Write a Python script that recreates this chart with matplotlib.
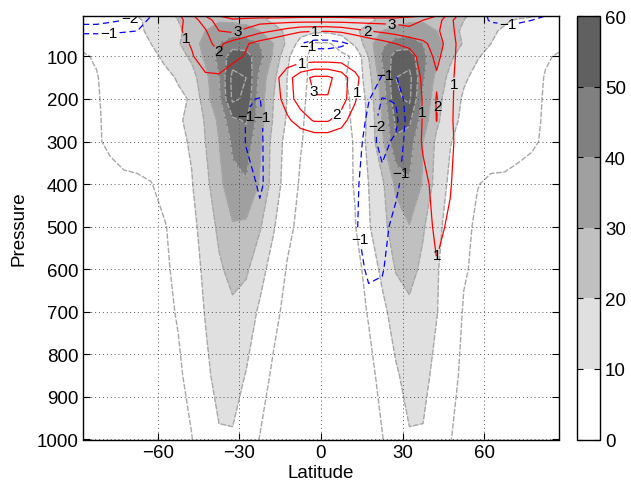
import numpy as np
import matplotlib
matplotlib.use('Agg')
import matplotlib.pyplot as plt
from matplotlib.colors import ListedColormap, BoundaryNorm
from matplotlib.cm import ScalarMappable

plt.rcParams['font.family'] = ['Liberation Sans', 'DejaVu Sans']

# grid
lat = [-87.5, -82.5, -77.5, -72.5, -67.5, -62.5, -57.5, -52.5, -47.5, -42.5, -37.5, -32.5,
       -27.5, -22.5, -17.5, -12.5, -7.5, -2.5, 2.5, 7.5, 12.5, 17.5, 22.5, 27.5,
       32.5, 37.5, 42.5, 47.5, 52.5, 57.5, 62.5, 67.5, 72.5, 77.5, 82.5, 87.5]
pres = [5, 15, 40, 70, 100, 150, 200, 250, 300, 400, 500, 600, 700, 850, 1000]

# zonal wind (shaded), one row per pressure level
u_p5 = [4, 5, 6, 8, 10, 13, 17, 21, 25, 29, 30, 29, 27, 23, 19, 16, 14, 13,
        13, 14, 16, 19, 23, 27, 29, 30, 29, 25, 21, 17, 15, 13, 12, 11, 9, 8]
u_p15 = [3, 4, 5, 7, 9, 12, 16, 20, 24, 28, 29, 28, 26, 22, 18, 15, 13, 12,
         12, 13, 15, 18, 22, 26, 28, 29, 28, 24, 20, 16, 13, 11, 9, 7, 6, 5]
u_p40 = [3, 4, 5, 7, 9, 11, 14, 18, 24, 30, 34, 36, 35, 30, 24, 18, 14, 12,
         12, 14, 18, 24, 30, 34, 36, 34, 30, 24, 18, 14, 11, 9, 7, 5, 4, 3]
u_p70 = [1, 2, 4, 6, 8, 10, 13, 19, 26, 33, 40, 46, 45, 40, 30, 18, 6, -1,
         -1, 3, 12, 26, 38, 45, 46, 40, 33, 26, 19, 13, 10, 8, 6, 4, 2, 1]
u_p100 = [-0.5, 0.5, 3, 5, 7, 8.5, 11, 16, 22, 32, 43, 55, 54, 44, 28, 12, 2, -2,
          -2, -1.5, 1, 20, 42, 54, 55, 43, 32, 22, 15, 10.5, 8, 6.5, 5, 3, 0.5, -0.5]
u_p150 = [-1, -0.3, 2, 4, 5.5, 7, 8.5, 10.5, 16, 27, 40, 63, 60, 37, 22, 10, 2, -2,
          -2, -1, 2, 16, 36, 60, 63, 42, 27, 17, 11, 8, 6.5, 5, 3.5, 2, -0.3, -1]
u_p200 = [-1.5, -0.5, 1.5, 3, 4.5, 6, 7.5, 9, 10.5, 26, 38, 62, 58, 35, 20, 10, 1.5, -2.5,
          -2.5, -1.5, 1, 13, 33, 58, 62, 38, 24, 14, 9, 7, 5.5, 4, 3, 1.5, -0.5, -1.5]
u_p250 = [-1.5, -0.5, 1, 2.5, 3.5, 5, 7, 9, 12, 21, 32, 48, 51, 35, 19, 9, 1, -3,
          -3, -2, 1, 12, 30, 52, 52, 35, 22, 13, 8, 6, 4.5, 3.5, 2.5, 1, -0.5, -1.5]
u_p300 = [-1.5, -0.5, 0.8, 2, 3, 4.5, 6, 8, 11, 20, 30, 42, 46, 32, 16, 7, 0.5, -3,
          -3, -2.5, 0.5, 13, 28, 49, 45, 30, 18, 10.5, 6, 4, 3, 2.5, 1.5, 0.5, -0.5, -1.5]
u_p400 = [-2, -2, -1.5, -1, -1, -0.3, 2.5, 6, 9.5, 17, 27, 37, 39, 29, 16, 5, -1, -3,
          -3, -3, 0.5, 10, 18, 32, 39, 29, 16, 8, 4, 0.2, -1, -1, -1.5, -1.5, -2, -2]
u_p500 = [-2.5, -2.5, -2, -2, -2, -2, -0.5, 3, 7.5, 14, 22, 29, 28, 21, 11, 2, -2, -3,
          -3, -2, -0.5, 9, 17, 25, 29.5, 21, 13, 5.5, 1.5, -1, -1.5, -1.5, -2, -2, -2, -2.5]
u_p600 = [-3, -2.5, -2.5, -2, -2, -2, -1, 1.5, 6, 12, 18.5, 23, 21.5, 13.5, 6, -0.5, -3, -4,
          -4, -3.5, -3, 3, 12.5, 20.5, 23, 18, 11, 4.5, 0.5, -1, -1.5, -2, -2, -2.5, -2.5, -3]
u_p700 = [-3, -3, -2.5, -2.5, -2, -2, -1.5, 0.5, 5, 10.5, 16, 18, 15, 8.5, 2.5, -2.5, -4, -5,
          -5, -4.5, -3, 0.5, 7, 15, 18, 15.5, 10.5, 4, -0.5, -1.5, -2, -2, -2.5, -2.5, -3, -3]
u_p850 = [-3, -3, -3, -2.5, -2.5, -2, -1.5, -1, 2, 8, 13, 14, 9.5, 4, -1.5, -5, -6, -6,
          -6, -6, -5, -2, 2, 8.5, 14, 13, 7, 1.5, -1, -1.5, -2, -2.5, -2.5, -3, -3, -3]
u_p1000 = [-3, -3, -3, -2, -2, -2, -1.5, -1, -0.2, 5, 9, 9, 4, -0.3, -4, -6, -6, -5,
           -5, -6, -6, -4, -0.3, 4, 9, 9, 5, 0.1, -1, -1.5, -2, -2, -2, -3, -3, -3]

# wind change (red / blue contours), one row per pressure level
d_p5 = [-3, -3, -3, -2.5, -2, -1, 0, 0.8, 1.8, 3, 4, 4.5, 4.5, 4.5, 4.5, 4.4, 4.3, 4.3,
        4.3, 4.3, 4.4, 4.5, 4.5, 4.5, 4.2, 4, 3, 1.5, 0.5, -0.5, -1.2, -1.5, -1.5, -1.2, -1, -0.5]
d_p15 = [-2.5, -2.5, -2.2, -2, -1.5, -0.8, 0, 0.7, 1.5, 2.5, 3.5, 3.8, 3.6, 3.4, 3.4, 3.4, 3.4, 3.4,
         3.4, 3.4, 3.4, 3.4, 3.4, 3.4, 3.4, 3, 2.5, 1.2, 0.3, -0.6, -1.1, -1.2, -1.2, -1, -0.6, -0.3]
d_p40 = [-1.2, -1.2, -1.2, -1.1, -1, -0.5, 0.2, 0.8, 1.5, 1.9, 3.0, 3.2, 2.8, 2.3, 2, 1.6, 1.2, 1.1,
         1.1, 1.3, 1.7, 2, 2.2, 2.4, 2.7, 2.6, 2.2, 1.3, 0.3, -0.4, -0.6, -0.6, -0.5, -0.4, -0.3, 0]
d_p70 = [-0.3, -0.3, -0.2, -0.2, -0.1, 0, 0.2, 0.6, 1.1, 1.8, 2.2, 1.6, 1.1, 0.6, 0.2, -0.3, -1.0, -1.8,
         -1.8, -1.4, -0.5, 0.2, 0.6, 1.0, 1.3, 1.8, 2.4, 1.6, 0.2, 0, 0, 0, 0, 0, 0, 0]
d_p100 = [0, 0, 0, 0, 0, 0, 0.1, 0.4, 0.9, 1.6, 1.9, 1.3, 0.9, 0.2, 0.2, 0.3, 0.3, 0.2,
          0.2, 0.3, 0.2, 0, 0, 0.2, 0.5, 1.5, 2.2, 1.5, 0.2, 0, 0, 0, 0, 0, 0, 0]
d_p150 = [0, 0, 0, 0, 0, 0, 0, 0.3, 0.5, 0.8, 0.8, 0.4, 0.1, -0.2, 0.6, 1.6, 2.6, 3.2,
          3.2, 2.6, 1.3, 0.3, -1.15, -1.1, 0.1, 1.2, 1.9, 1.3, 0.2, 0, 0, 0, 0, 0, 0, 0]
d_p200 = [0, 0, 0, 0, 0, 0, 0, 0, 0.1, 0.2, 0.2, -0.2, -0.9, -1.05, 0.4, 1.5, 2.5, 2.95,
          2.95, 2.5, 1.2, -0.9, -2.05, -1.9, -0.3, 1.1, 2.05, 1.25, 0.2, 0, 0, 0, 0, 0, 0, 0]
d_p250 = [0, 0, 0, 0, 0, 0, 0, 0, 0, 0, 0, -0.2, -1.05, -1.15, -0.4, 0.8, 1.5, 2.1,
          2.1, 1.5, 0.3, -1.4, -2.4, -2.3, -0.4, 1.1, 2.02, 1.2, 0.2, 0, 0, 0, 0, 0, 0, 0]
d_p300 = [0, 0, 0, 0, 0, 0, 0, 0, 0, 0, 0, -0.3, -1.05, -1.15, -0.5, 0.1, 0.2, 0.2,
          0.2, 0.1, -0.3, -1.6, -2.3, -1.8, -0.4, 1.2, 1.6, 1.3, 0.2, 0, 0, 0, 0, 0, 0, 0]
d_p400 = [0, 0, 0, 0, 0, 0, 0, 0, 0, 0, 0, -0.2, -0.7, -1.1, -0.7, 0, 0, 0,
          0, 0, -0.8, -1.5, -1.7, -1.3, -0.2, 0.6, 1.5, 1.1, 0, 0, 0, 0, 0, 0, 0, 0]
d_p500 = [0, 0, 0, 0, 0, 0, 0, 0, 0, 0, 0, 0, -0.4, -0.8, -0.4, 0, 0, 0,
          0, 0, -0.9, -1.4, -1.4, -0.6, 0, 0.3, 1.3, 0.8, 0, 0, 0, 0, 0, 0, 0, 0]
d_p600 = [0, 0, 0, 0, 0, 0, 0, 0, 0, 0, 0, 0, 0, 0, 0, 0, 0, 0,
          0, 0, -0.5, -1.2, -1.1, -0.3, 0, 0, 0.9, 0.4, 0, 0, 0, 0, 0, 0, 0, 0]
d_p700 = [0, 0, 0, 0, 0, 0, 0, 0, 0, 0, 0, 0, 0, 0, 0, 0, 0, 0,
          0, 0, 0, -0.6, -0.5, 0, 0, 0, 0, 0, 0, 0, 0, 0, 0, 0, 0, 0]
d_p850 = [0] * 36
d_p1000 = [0] * 36

shade_levels = [0, 10, 20, 30, 40, 50, 60]
shade_colors = ['#ffffff', '#e0e0e0', '#c0c0c0', '#a0a0a0', '#808080', '#606060']
pos_levels = [1, 2, 3, 4]
neg_levels = [-2, -1]

# label spots (lat, pressure) as in the original
pos_label_at = [(-49, 55), (-37.7, 88), (-30.4, 48), (-2, 36), (-6.9, 114), (-3.9, 184),
                (4.1, 224), (13.3, 184), (16.9, 43), (26.1, 31), (36.4, 231), (42.7, 217),
                (51.9, 165), (45.6, 571)]
neg_label_at = [(-78, 41), (-70, 17), (-5, 78), (-28.9, 240), (-21.6, 243), (23.6, 149),
                (20.7, 264), (28, 372), (13.7, 529), (68.8, 22)]

U = np.array([u_p5, u_p15, u_p40, u_p70, u_p100, u_p150, u_p200, u_p250, u_p300,
              u_p400, u_p500, u_p600, u_p700, u_p850, u_p1000], dtype=float)
D = np.array([d_p5, d_p15, d_p40, d_p70, d_p100, d_p150, d_p200, d_p250, d_p300,
              d_p400, d_p500, d_p600, d_p700, d_p850, d_p1000], dtype=float)
LAT, P = np.meshgrid(lat, pres)

fig = plt.figure(figsize=(6.31, 4.89), dpi=100)
ax = fig.add_axes([83 / 631, 1 - 440.5 / 489, 476 / 631, 423.5 / 489])

ax.contourf(LAT, P, U, levels=[-100] + shade_levels + [100],
            colors=['#ffffff'] + shade_colors + ['#606060'])
cl = ax.contour(LAT, P, U, levels=shade_levels, colors='#a8a8a8', linewidths=1.0)
cl.set_linestyle((0, (4, 1.2)))

fmt = lambda v: '{:.0f}'.format(v).replace('-', '\u2212')
cp = ax.contour(LAT, P, D, levels=pos_levels, colors='#ff0000', linewidths=0.9)
cn = ax.contour(LAT, P, D, levels=neg_levels, colors='#0000ff', linewidths=0.9)
cn.set_linestyle((0, (5, 3)))
lp = ax.clabel(cp, manual=pos_label_at, fmt=fmt, fontsize=11, colors='k', inline_spacing=2)
ln = ax.clabel(cn, manual=neg_label_at, fmt=fmt, fontsize=11, colors='k', inline_spacing=2)
for t in list(lp) + list(ln):
    t.set_rotation(0)

ax.set_xlim(-87.5, 87.5)
ax.set_ylim(1000, 5)
ax.set_xticks([-60, -30, 0, 30, 60])
ax.set_yticks([100, 200, 300, 400, 500, 600, 700, 800, 900, 1000])
ax.grid(True, linestyle=(0, (1, 3)), color='#555555', linewidth=0.7)
ax.set_axisbelow(False)
ax.tick_params(direction='in', top=True, right=True, length=5, labelsize=13.5)
ax.set_xlabel('Latitude', fontsize=13.5, labelpad=2)
ax.set_ylabel('Pressure', fontsize=13.5, labelpad=6)
for s in ax.spines.values():
    s.set_linewidth(1.0)

# colorbar
cax = fig.add_axes([577 / 631, 1 - 440.5 / 489, 23 / 631, 423.5 / 489])
sm = ScalarMappable(norm=BoundaryNorm(shade_levels, 6), cmap=ListedColormap(shade_colors))
cb = fig.colorbar(sm, cax=cax, ticks=shade_levels)
cb.outline.set_linewidth(1.0)
cax.tick_params(direction='in', left=True, right=True, length=4, labelsize=13.5)

fig.savefig('out.png', dpi=100)
